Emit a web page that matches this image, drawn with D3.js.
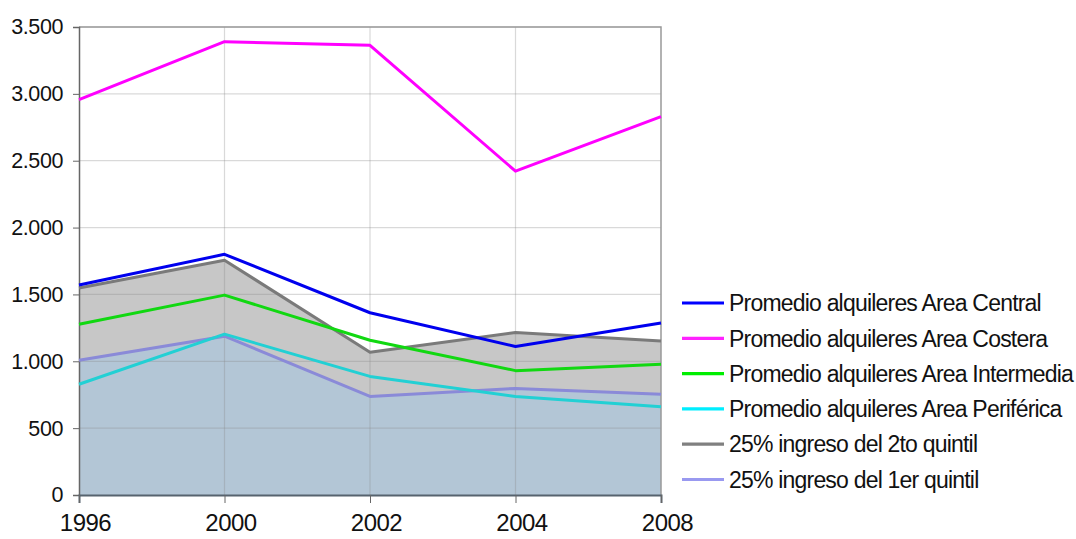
<!DOCTYPE html>
<html>
<head>
<meta charset="utf-8">
<script src="https://cdn.jsdelivr.net/npm/d3@7"></script>
<style>
  body { margin: 0; background: #fff; }
  text { font-family: "Liberation Sans", Arial, sans-serif; fill: #111; }
</style>
</head>
<body>
<script>
const years = ["1996", "2000", "2002", "2004", "2008"]

const central = [1570, 1800, 1363, 1111, 1286]
const costera = [2957, 3390, 3363, 2422, 2830]
const intermedia = [1277, 1495, 1157, 930, 977]
const periferica = [828, 1203, 887, 737, 660]
const quintil2 = [1548, 1756, 1067, 1216, 1152]
const quintil1 = [1007, 1188, 737, 797, 753]

const yTicks = [0, 500, 1000, 1500, 2000, 2500, 3000, 3500]

const WIDTH = 1076
const HEIGHT = 539

const PLOT = {
    left: 79,
    right: 661,
    top: 27,
    bottom: 495
}

const series = [
    { name: "Promedio alquileres Area Central", values: central, color: "#0000ee", key: "#0000ff" },
    { name: "Promedio alquileres Area Costera", values: costera, color: "#ff00ff", key: "#ff22ff" },
    { name: "Promedio alquileres Area Intermedia", values: intermedia, color: "#11d811", key: "#00ee00" },
    { name: "Promedio alquileres Area Periférica", values: periferica, color: "#22d0d4", key: "#00eeff" },
    { name: "25% ingreso del 2to quintil", values: quintil2, color: "#7a7a7a", key: "#808080" },
    { name: "25% ingreso del 1er quintil", values: quintil1, color: "#8a8ad8", key: "#9999f0" }
]

const svg = d3
    .select("body")
    .append("svg")
    .attr("width", WIDTH)
    .attr("height", HEIGHT)

const x = d3.scalePoint()
    .domain(years)
    .range([PLOT.left, PLOT.right])

const y = d3.scaleLinear()
    .domain([0, 3500])
    .range([PLOT.bottom, PLOT.top])

const fmt = d3.formatLocale({ decimal: ",", thousands: ".", grouping: [3], currency: ["", ""] }).format(",")

// filled areas for the two quintile series
const area = d3.area()
    .x((d, i) => x(years[i]))
    .y0(y(0))
    .y1(d => y(d))

svg.append("path")
    .attr("d", area(quintil2))
    .attr("fill", "#c7c7c7")

svg.append("path")
    .attr("d", area(quintil1))
    .attr("fill", "#b3c6d6")

// grid
svg.append("g")
    .selectAll("line")
    .data(yTicks.slice(1))
    .enter()
    .append("line")
    .attr("x1", PLOT.left)
    .attr("x2", PLOT.right)
    .attr("y1", d => y(d))
    .attr("y2", d => y(d))
    .attr("stroke", "#888")
    .attr("stroke-opacity", 0.32)
    .attr("stroke-width", 1.2)

svg.append("g")
    .selectAll("line")
    .data(years.slice(1, -1))
    .enter()
    .append("line")
    .attr("x1", d => x(d))
    .attr("x2", d => x(d))
    .attr("y1", PLOT.top)
    .attr("y2", PLOT.bottom)
    .attr("stroke", "#888")
    .attr("stroke-opacity", 0.32)
    .attr("stroke-width", 1.2)

// frame
svg.append("path")
    .attr("d", `M${PLOT.left},${PLOT.top}H${PLOT.right}V${PLOT.bottom}`)
    .attr("fill", "none")
    .attr("stroke", "#999")
    .attr("stroke-width", 1.5)

// axes
const yAxis = svg.append("g")
    .attr("transform", `translate(${PLOT.left},0)`)
    .call(d3.axisLeft(y).tickValues(yTicks).tickSize(6).tickPadding(10).tickFormat(fmt))

yAxis.select(".domain").attr("stroke", "#666").attr("stroke-width", 1.5)
yAxis.selectAll(".tick line").attr("stroke", "#666")
yAxis.selectAll("text")
    .attr("font-size", "21.5px")
    .attr("letter-spacing", "-0.4px")
    .attr("fill", "#111")
    .attr("font-family", "Liberation Sans, Arial, sans-serif")

const xAxis = svg.append("g")
    .attr("transform", `translate(0,${PLOT.bottom})`)
    .call(d3.axisBottom(x).tickSize(8).tickPadding(8))

xAxis.select(".domain").attr("stroke", "#56636e").attr("stroke-width", 2)
xAxis.selectAll(".tick line").attr("stroke", "#666")
xAxis.selectAll("text")
    .attr("font-size", "24px")
    .attr("letter-spacing", "-0.5px")
    .attr("fill", "#111")
    .attr("dx", 6)
    .attr("dy", "0.84em")
    .attr("font-family", "Liberation Sans, Arial, sans-serif")

// lines
const line = d3.line()
    .x((d, i) => x(years[i]))
    .y(d => y(d))

const drawOrder = [4, 5, 3, 2, 0, 1]
drawOrder.forEach(i => {
    svg.append("path")
        .attr("d", line(series[i].values))
        .attr("fill", "none")
        .attr("stroke", series[i].color)
        .attr("stroke-width", 3)
        .attr("stroke-linejoin", "round")
})

// legend
const legend = svg.append("g")
    .attr("transform", "translate(682,303)")

const rows = legend
    .selectAll(".legend-item")
    .data(series)
    .enter()
    .append("g")
    .attr("class", "legend-item")
    .attr("transform", (_, i) => `translate(0,${i * 35.3})`)

rows.append("line")
    .attr("x1", 0)
    .attr("x2", 42)
    .attr("stroke", d => d.key)
    .attr("stroke-width", 3.2)

rows.append("text")
    .attr("x", 47)
    .attr("dy", "0.36em")
    .attr("font-size", "23px")
    .attr("letter-spacing", "-0.8px")
    .text(d => d.name)
</script>
</body>
</html>
